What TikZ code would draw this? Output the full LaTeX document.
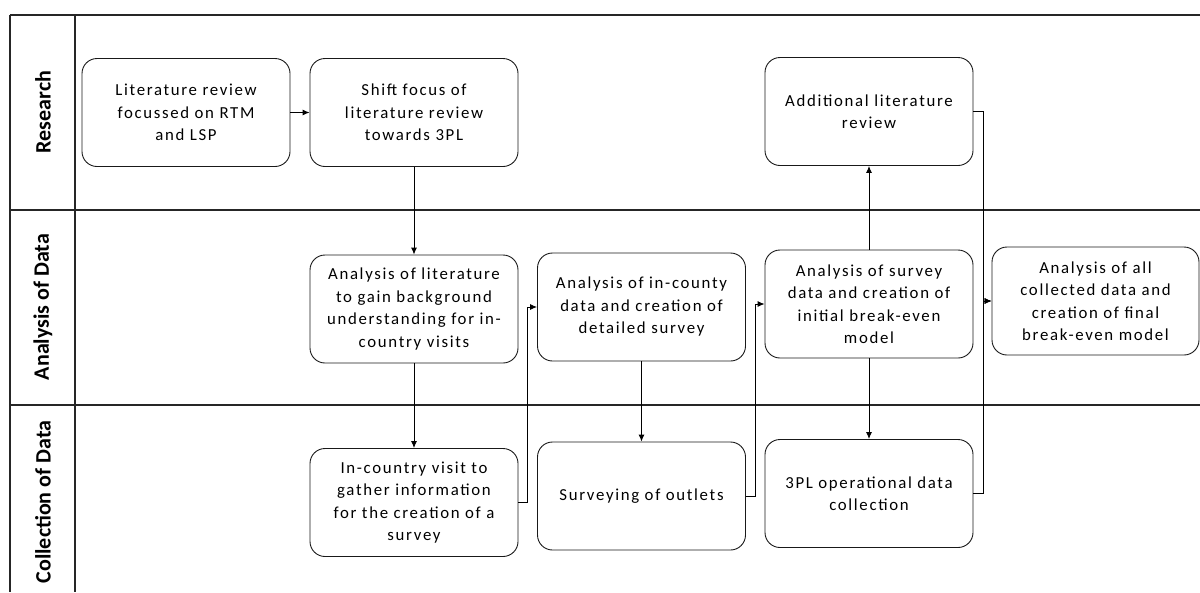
\documentclass[tikz,border=0pt]{standalone}
\usepackage{fontspec}
\setmainfont{Carlito}
\newfontfamily\stepfont[LetterSpace=10]{Carlito}
\usetikzlibrary{arrows.meta}
\begin{document}
\begin{tikzpicture}[x=1pt,y=-1pt,
  lanerule/.style={line width=1.3pt,draw=black!85},
  lanetitle/.style={rotate=90,font=\fontsize{22}{26}\selectfont\bfseries,inner sep=0pt},
  stepbox/.style={draw=black!90,line width=0.9pt,rounded corners=15pt,
    minimum width=208pt,minimum height=108pt,align=center,inner sep=2pt,
    font=\fontsize{16.8}{22.5}\selectfont\stepfont},
  flow/.style={draw=black,line width=0.9pt,-{Latex[length=7pt,width=6pt]}}]
\useasboundingbox (0,0) rectangle (1200,592);

% swim-lane frame
\draw[lanerule] (10,15) -- (1200,15);
\draw[lanerule] (10,15) -- (10,592);
\draw[lanerule] (75,15) -- (75,592);
\draw[lanerule] (10,210) -- (1200,210);
\draw[lanerule] (10,405) -- (1200,405);

\node[lanetitle] (lr) at (43,112) {Research};
\node[lanetitle] (la) at (43,307) {Analysis of Data};
\node[lanetitle] (lc) at (43,502) {Collection of Data};

% research lane
\node[stepbox] (b1) at (186,112.5) {Literature review\\focussed on RTM\\and LSP};
\node[stepbox] (b2) at (414,112.5) {Shift focus of\\literature review\\towards 3PL};
\node[stepbox] (b3) at (869,111.5) {Additional literature\\review};

% analysis lane
\node[stepbox] (b4) at (414,309) {Analysis of literature\\to gain background\\understanding for in-\\country visits};
\node[stepbox] (b5) at (641.5,307) {Analysis of in-county\\data and creation of\\detailed survey};
\node[stepbox] (b6) at (869,304) {Analysis of survey\\data and creation of\\initial break-even\\model};
\node[stepbox,minimum width=207pt] (b7) at (1095.5,301) {Analysis of all\\collected data and\\creation of final\\break-even model};

% collection lane
\node[stepbox] (b8) at (414,502.5) {In-country visit to\\gather information\\for the creation of a\\survey};
\node[stepbox] (b9) at (641.5,496) {Surveying of outlets};
\node[stepbox] (b10) at (869,493.5) {3PL operational data\\collection};

% flow
\draw[flow] (b1.east) -- (b2.west);
\draw[flow] (b2.south) -- (b4.north);
\draw[flow] (b4.south) -- (b8.north);
\draw[flow] (b8.east) -- ++(9,0) |- (b5.west);
\draw[flow] (b5.south) -- (b9.north);
\draw[flow] (b9.east) -- ++(9,0) |- (b6.west);
\draw[flow] (b6.north) -- (b3.south);
\draw[flow] (b6.south) -- (b10.north);
\draw[flow] (b3.east) -- ++(10,0) |- (b7.west);
\draw[flow] (b10.east) -- ++(10,0) |- (b7.west);
\end{tikzpicture}
\end{document}
